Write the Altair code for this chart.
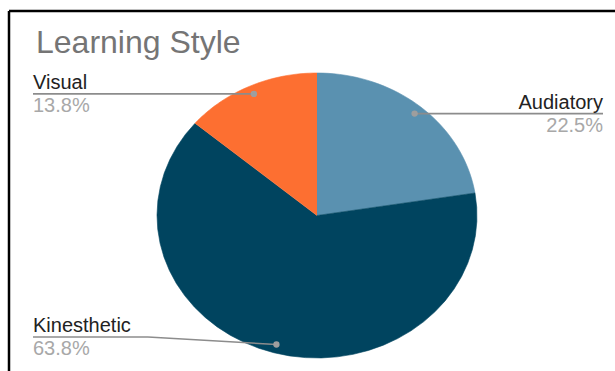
import altair as alt
import pandas as pd

categories = ["Audiatory", "Kinesthetic", "Visual"]
shares = [22.5, 63.8, 13.8]
colors = ["#5a91b0", "#00445f", "#fd6f31"]
title_text = "Learning Style"

df = pd.DataFrame({"cat": categories, "share": shares, "k": list(range(len(categories)))})

FONT = "Liberation Sans"
xs = alt.Scale(domain=[-1, 1], range=[157, 477])
ys = alt.Scale(domain=[-1, 1], range=[358, 73])
color = alt.Color("cat:N", scale=alt.Scale(domain=categories, range=colors), legend=None)

base = (
    alt.Chart(df)
    .transform_window(cum="sum(share)", sort=[alt.SortField("k")], frame=[None, 0])
    .transform_joinaggregate(total="sum(share)")
    .transform_calculate(a0="2*PI*(datum.cum - datum.share)/datum.total")
    .transform_calculate(a1="2*PI*datum.cum/datum.total")
    .transform_calculate(am="(datum.a0 + datum.a1)/2")
)

pie = (
    base.transform_calculate(idx="sequence(0, 42)")
    .transform_flatten(["idx"])
    .transform_calculate(ang="datum.a0 + (datum.a1 - datum.a0)*(datum.idx - 1)/40")
    .transform_calculate(px="datum.idx == 0 ? 0 : sin(datum.ang)")
    .transform_calculate(py="datum.idx == 0 ? 0 : cos(datum.ang)")
    .mark_line(filled=True, strokeWidth=0.6)
    .encode(
        x=alt.X("px:Q", scale=xs, axis=None),
        y=alt.Y("py:Q", scale=ys, axis=None),
        color=color,
        stroke=alt.Stroke("cat:N", scale=alt.Scale(domain=categories, range=colors), legend=None),
        order=alt.Order("idx:Q"),
    )
)

lab = (
    base.transform_calculate(dx="0.94*sin(datum.am)")
    .transform_calculate(dy="0.94*cos(datum.am)")
    .transform_calculate(ly="max(datum.dy, -0.853)")
    .transform_calculate(side="sin(datum.am) < 0 ? 'L' : 'R'")
    .transform_calculate(pct="format(datum.share, '.1f') + '%'")
)

X = alt.X("dx:Q", scale=xs, axis=None)
Y = alt.Y("dy:Q", scale=ys, axis=None)
LY = alt.Y("ly:Q", scale=ys, axis=None)
LINE = dict(color="#8c8c8c", strokeWidth=1.6)

left = lab.transform_filter("datum.side == 'L'")
right = lab.transform_filter("datum.side == 'R'")

left_h = left.mark_rule(**LINE).encode(x=alt.value(33), x2=alt.value(148), y=LY)
left_d = left.mark_rule(**LINE).encode(x=X, y=Y, x2=alt.value(148), y2=alt.Y2("ly:Q"))
right_h = right.mark_rule(**LINE).encode(x=X, x2=alt.value(603), y=Y)

dots = lab.mark_point(filled=True, size=40, color="#9e9e9e", opacity=1).encode(x=X, y=Y)

name_style = dict(font=FONT, fontSize=20, color="#222222", baseline="alphabetic")
pct_style = dict(font=FONT, fontSize=20, color="#a8a8a8", baseline="alphabetic")

left_name = left.mark_text(align="left", dy=-5, **name_style).encode(x=alt.value(33), y=LY, text="cat:N")
left_pct = left.mark_text(align="left", dy=18, **pct_style).encode(x=alt.value(33), y=LY, text="pct:N")
right_name = right.mark_text(align="right", dy=-5, **name_style).encode(x=alt.value(603), y=Y, text="cat:N")
right_pct = right.mark_text(align="right", dy=18, **pct_style).encode(x=alt.value(603), y=Y, text="pct:N")

one = alt.Data(values=[{"t": title_text}])
title = alt.Chart(one).mark_text(
    align="left", baseline="alphabetic", font=FONT, fontSize=32, color="#757575"
).encode(x=alt.value(36), y=alt.value(53), text="t:N")

frame_top = alt.Chart(one).mark_rule(color="black", strokeWidth=2.5).encode(
    x=alt.value(9), x2=alt.value(615), y=alt.value(11)
)
frame_left = alt.Chart(one).mark_rule(color="black", strokeWidth=2.5).encode(
    x=alt.value(9), y=alt.value(11), y2=alt.value(371)
)

chart = (
    alt.layer(pie, left_h, left_d, right_h, dots, left_name, left_pct, right_name, right_pct,
              title, frame_top, frame_left)
    .properties(width=615, height=371, padding=0, autosize=alt.AutoSizeParams(type="none"),
                background="white")
    .configure_view(stroke=None)
)

chart.save("out.html", embed_options={"renderer": "svg", "actions": False})
